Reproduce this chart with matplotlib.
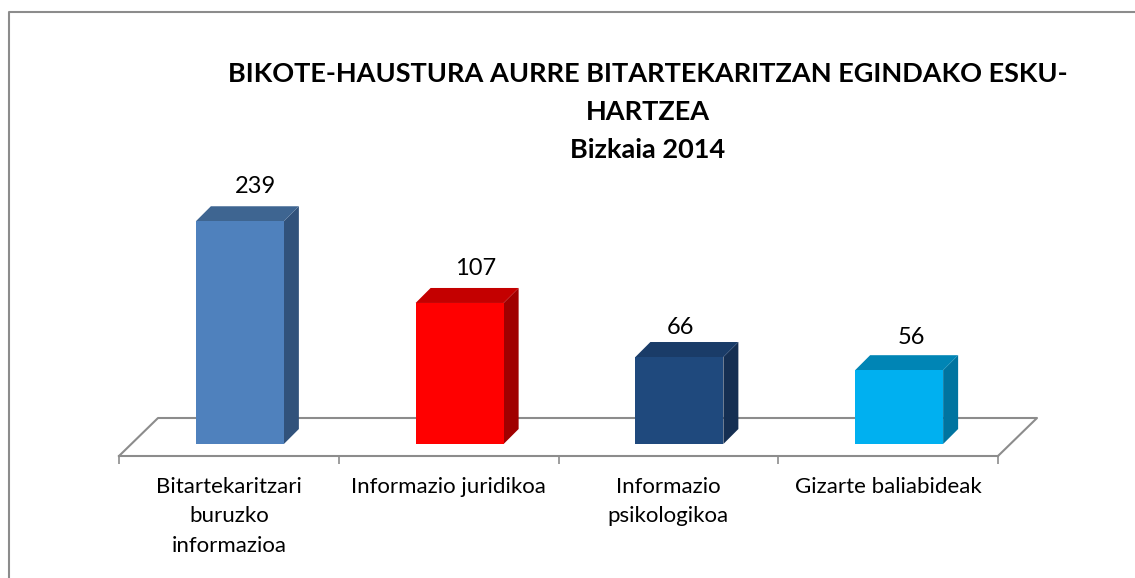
import matplotlib
matplotlib.use('Agg')
import matplotlib.pyplot as plt
from matplotlib.lines import Line2D
from matplotlib.patches import Polygon

plt.rcParams['font.family'] = ['Lato', 'DejaVu Sans']

categories = ['Bitartekaritzari\nburuzko\ninformazioa', 'Informazio juridikoa',
              'Informazio\npsikologikoa', 'Gizarte baliabideak']
value_labels = [239, 107, 66, 56]
# the first bar is drawn much shorter than its label says, same in the original
drawn_values = [169, 107, 66, 56]
front_colors = ['#4F81BD', '#FF0000', '#1F497D', '#00B0F0']
top_colors = ['#3E6591', '#C40000', '#1A3C68', '#0085B5']
side_colors = ['#31527B', '#A00000', '#152F52', '#0074A0']
chart_title = 'BIKOTE-HAUSTURA AURRE BITARTEKARITZAN EGINDAKO ESKU-\nHARTZEA\nBizkaia 2014'

W, H = 1135, 578
GRAY = '#8C8C8C'
PX_PER_UNIT = 1.318
PX_PER_CAT = 219.75
FLOOR_PX = 456
TOP_PX = 160

fig = plt.figure(figsize=(W / 100, H / 100), dpi=100)
ax = fig.add_axes([119 / W, 1 - FLOOR_PX / H, 879 / W, (FLOOR_PX - TOP_PX) / H])
ax.set_xlim(-0.5, 3.5)
ax.set_ylim(-12 / PX_PER_UNIT, (444 - TOP_PX) / PX_PER_UNIT)
ax.patch.set_alpha(0)

# pseudo 3d offsets, in data units
dx = 15 / PX_PER_CAT
dy = 15 / PX_PER_UNIT
shift = 11 / PX_PER_CAT
width = 88 / PX_PER_CAT

# floor of the chart
y0 = ax.get_ylim()[0]
back = y0 + 38 / PX_PER_UNIT
slant = 39 / PX_PER_CAT
floor_x = [-0.5, -0.5 + slant, 3.5 + slant, 3.5]
floor_y = [y0, back, back, y0]
ax.plot(floor_x, floor_y, color=GRAY, lw=1.5, clip_on=False, zorder=1)

for i, h in enumerate(drawn_values):
    x0 = i + shift - width / 2
    x1 = x0 + width
    ax.bar(x0 + width / 2, h, width=width, color=front_colors[i], zorder=3)
    ax.add_patch(Polygon([(x1, 0), (x1 + dx, dy), (x1 + dx, h + dy), (x1, h)],
                         color=side_colors[i], lw=0, clip_on=False, zorder=2))
    ax.add_patch(Polygon([(x0, h), (x0 + dx, h + dy), (x1 + dx, h + dy), (x1, h)],
                         color=top_colors[i], lw=0, clip_on=False, zorder=2))

# value labels do not sit evenly over the bars
label_dx = [16, 16, 1, 12]
label_dy = [20, 19, 15, 18]
for i, h in enumerate(drawn_values):
    ax.annotate(str(value_labels[i]), (i + shift, h + dy),
                xytext=(label_dx[i] * 0.72, label_dy[i] * 0.72), textcoords='offset points',
                ha='center', va='center', fontsize=17, color='black', zorder=4)

for s in ['top', 'left', 'right']:
    ax.spines[s].set_visible(False)
ax.spines['bottom'].set_color(GRAY)
ax.spines['bottom'].set_linewidth(1.5)
ax.set_yticks([])
ax.set_xticks([-0.5, 0.5, 1.5, 2.5, 3.5])
ax.set_xticklabels([])
ax.tick_params(axis='x', which='major', length=6, width=1.2, color=GRAY)
ax.set_xticks([0, 1, 2, 3], minor=True)
ax.set_xticklabels(categories, minor=True, fontsize=16, linespacing=1.6, va='top', ha='center')
ax.tick_params(axis='x', which='minor', length=0, pad=15)

fig.text(648 / W, 1 - 112 / H, chart_title, ha='center', va='center', fontsize=19.5,
         fontweight='bold', linespacing=1.72, color='black')

# chart frame, only left and top edges show in the crop
fig.add_artist(Line2D([9 / W, 9 / W, 1], [0, 1 - 12 / H, 1 - 12 / H], color=GRAY, lw=1.5))

fig.savefig('out.png', dpi=100)
